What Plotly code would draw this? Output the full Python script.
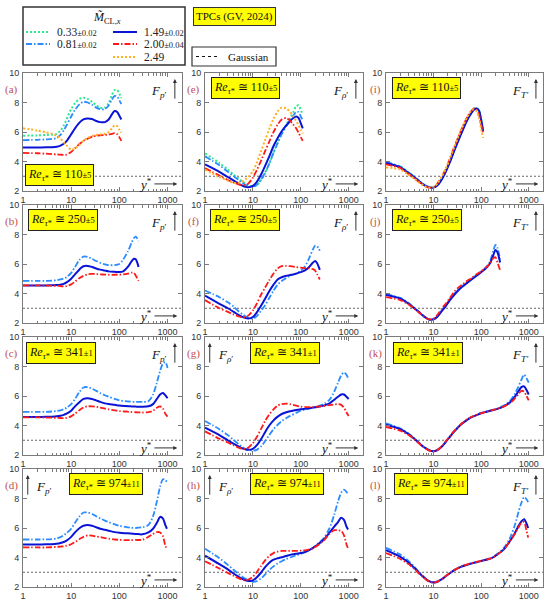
import plotly.graph_objects as go

# ---------------- data ----------------
X_RE110 = [1, 2, 3, 4, 5, 6, 7, 8, 10, 12, 15, 18, 22, 27, 33, 40, 50, 60, 70, 80, 90, 100, 110]
X_RE250 = [1, 2, 3, 4, 5, 6, 7, 8, 10, 12, 15, 18, 22, 27, 33, 40, 50, 60, 80, 100, 120, 150, 180, 200, 220, 250]
X_RE341 = [1, 2, 3, 4, 5, 6, 7, 8, 10, 12, 15, 18, 22, 27, 33, 40, 50, 60, 80, 100, 130, 170, 220, 300, 400, 500, 600, 700, 800, 900, 1000]
X_RE974 = [1, 2, 3, 4, 5, 6, 7, 8, 10, 12, 15, 18, 22, 27, 33, 40, 50, 60, 80, 100, 130, 170, 220, 300, 400, 500, 600, 700, 800, 900, 974]

# (a) F_p', Re 110
A_033 = [5.75, 5.77, 5.8, 5.82, 5.87, 6.1, 6.45, 6.85, 7.55, 7.95, 8.25, 8.32, 8.25, 8.05, 7.82, 7.65, 7.65, 7.95, 8.5, 8.85, 8.85, 8.6, 8.3]
A_081 = [5.45, 5.47, 5.5, 5.53, 5.6, 5.8, 6.1, 6.45, 7.05, 7.5, 7.9, 8.05, 8.0, 7.85, 7.65, 7.55, 7.55, 7.8, 8.2, 8.45, 8.4, 8.15, 7.9]
A_149 = [4.95, 4.95, 4.96, 4.97, 5.0, 5.08, 5.2, 5.38, 5.85, 6.25, 6.65, 6.85, 6.92, 6.88, 6.75, 6.67, 6.67, 6.85, 7.2, 7.42, 7.35, 7.1, 6.85]
A_200 = [4.58, 4.56, 4.53, 4.5, 4.48, 4.46, 4.45, 4.47, 4.65, 4.9, 5.2, 5.4, 5.55, 5.67, 5.75, 5.78, 5.8, 5.83, 5.88, 5.92, 5.85, 5.65, 5.4]
A_249 = [6.25, 6.1, 5.98, 5.88, 5.75, 5.55, 5.3, 5.1, 4.8, 4.88, 5.15, 5.4, 5.6, 5.72, 5.8, 5.83, 5.88, 6.0, 6.25, 6.45, 6.4, 6.15, 5.95]
# (e) F_rho', Re 110
E_033 = [4.55, 3.9, 3.45, 3.1, 2.85, 2.65, 2.5, 2.4, 2.3, 2.4, 2.75, 3.2, 3.85, 4.6, 5.3, 5.9, 6.5, 6.95, 7.35, 7.75, 7.8, 7.5, 7.2]
E_081 = [4.35, 3.75, 3.3, 3.0, 2.75, 2.55, 2.42, 2.35, 2.3, 2.4, 2.8, 3.25, 3.85, 4.6, 5.25, 5.85, 6.4, 6.8, 7.1, 7.35, 7.35, 7.05, 6.8]
E_149 = [3.8, 3.3, 2.95, 2.7, 2.5, 2.37, 2.28, 2.25, 2.35, 2.6, 3.15, 3.7, 4.35, 5.05, 5.6, 6.05, 6.45, 6.75, 6.95, 7.05, 6.95, 6.6, 6.25]
E_200 = [3.55, 3.05, 2.75, 2.57, 2.45, 2.38, 2.4, 2.5, 2.9, 3.4, 4.1, 4.7, 5.35, 6.0, 6.5, 6.85, 6.95, 6.75, 6.5, 6.25, 5.95, 5.65, 5.4]
E_249 = [3.45, 2.95, 2.7, 2.55, 2.55, 2.65, 2.8, 2.95, 3.35, 3.9, 4.75, 5.45, 6.2, 6.9, 7.4, 7.65, 7.6, 7.35, 7.05, 6.75, 6.45, 6.15, 5.9]
# (i) F_T', Re 110
I_033 = [3.95, 3.65, 3.25, 2.95, 2.68, 2.48, 2.35, 2.27, 2.25, 2.4, 2.85, 3.35, 4.0, 4.75, 5.45, 6.1, 6.8, 7.25, 7.55, 7.65, 7.45, 6.9, 6.2]
I_081 = [3.95, 3.65, 3.25, 2.95, 2.68, 2.48, 2.35, 2.27, 2.25, 2.4, 2.85, 3.35, 4.0, 4.75, 5.45, 6.1, 6.8, 7.25, 7.5, 7.6, 7.4, 6.85, 6.1]
I_149 = [3.9, 3.6, 3.2, 2.92, 2.65, 2.45, 2.32, 2.24, 2.23, 2.37, 2.8, 3.3, 3.95, 4.7, 5.4, 6.05, 6.75, 7.2, 7.5, 7.6, 7.45, 6.8, 6.05]
I_200 = [3.8, 3.55, 3.15, 2.85, 2.6, 2.42, 2.3, 2.23, 2.28, 2.5, 3.0, 3.5, 4.2, 4.95, 5.65, 6.3, 6.95, 7.35, 7.6, 7.55, 7.2, 6.5, 5.9]
I_249 = [3.6, 3.45, 3.1, 2.82, 2.57, 2.4, 2.28, 2.22, 2.28, 2.5, 3.0, 3.5, 4.2, 4.95, 5.65, 6.3, 6.95, 7.4, 7.55, 7.4, 6.95, 6.2, 5.6]

# (b) (f) (j), Re 250
B_081 = [4.85, 4.85, 4.86, 4.87, 4.9, 4.95, 5.02, 5.1, 5.4, 5.8, 6.3, 6.5, 6.48, 6.35, 6.2, 6.08, 5.98, 5.93, 5.92, 6.0, 6.3, 6.85, 7.45, 7.75, 7.85, 7.55]
B_149 = [4.55, 4.55, 4.55, 4.56, 4.57, 4.6, 4.65, 4.75, 5.0, 5.3, 5.65, 5.85, 5.87, 5.8, 5.7, 5.62, 5.55, 5.5, 5.47, 5.45, 5.5, 5.8, 6.2, 6.35, 6.3, 5.8]
B_200 = [4.55, 4.55, 4.54, 4.53, 4.52, 4.5, 4.48, 4.5, 4.62, 4.8, 5.05, 5.2, 5.3, 5.33, 5.32, 5.3, 5.28, 5.27, 5.27, 5.28, 5.3, 5.35, 5.42, 5.4, 5.2, 4.85]
F_081 = [4.2, 3.75, 3.4, 3.1, 2.8, 2.6, 2.45, 2.35, 2.3, 2.45, 2.85, 3.2, 3.7, 4.2, 4.6, 4.85, 5.05, 5.2, 5.35, 5.55, 5.8, 6.4, 7.0, 7.25, 7.2, 6.9]
F_149 = [3.85, 3.3, 3.0, 2.75, 2.55, 2.42, 2.33, 2.3, 2.4, 2.7, 3.2, 3.65, 4.15, 4.6, 4.95, 5.1, 5.2, 5.25, 5.35, 5.45, 5.55, 5.8, 6.1, 6.2, 6.05, 5.6]
F_200 = [3.55, 3.0, 2.75, 2.57, 2.45, 2.38, 2.4, 2.5, 2.85, 3.3, 3.95, 4.4, 4.9, 5.35, 5.7, 5.85, 5.87, 5.85, 5.8, 5.75, 5.72, 5.7, 5.65, 5.55, 5.3, 4.95]
J_081 = [3.95, 3.7, 3.35, 3.0, 2.75, 2.52, 2.35, 2.25, 2.25, 2.45, 2.85, 3.2, 3.6, 3.95, 4.25, 4.5, 4.75, 4.95, 5.25, 5.5, 5.7, 6.1, 6.9, 7.3, 7.1, 6.3]
J_149 = [3.9, 3.65, 3.3, 2.98, 2.72, 2.5, 2.34, 2.24, 2.25, 2.43, 2.82, 3.15, 3.55, 3.9, 4.2, 4.45, 4.7, 4.9, 5.2, 5.45, 5.65, 6.0, 6.6, 6.95, 6.8, 6.1]
J_200 = [3.75, 3.55, 3.25, 2.95, 2.7, 2.48, 2.32, 2.25, 2.3, 2.55, 3.0, 3.3, 3.7, 4.1, 4.4, 4.6, 4.85, 5.0, 5.3, 5.5, 5.7, 6.0, 6.4, 6.45, 6.1, 5.6]

# (c) (g) (k), Re 341
C_081 = [4.92, 4.92, 4.93, 4.95, 4.98, 5.03, 5.1, 5.2, 5.45, 5.8, 6.3, 6.58, 6.6, 6.5, 6.35, 6.2, 6.05, 5.95, 5.8, 5.7, 5.65, 5.62, 5.6, 5.6, 5.65, 6.1, 6.9, 7.7, 8.2, 8.3, 7.9]
C_149 = [4.58, 4.58, 4.59, 4.6, 4.62, 4.66, 4.72, 4.8, 5.0, 5.3, 5.6, 5.8, 5.85, 5.8, 5.7, 5.6, 5.5, 5.45, 5.4, 5.35, 5.32, 5.3, 5.28, 5.27, 5.3, 5.45, 5.8, 6.1, 6.2, 6.05, 5.85]
C_200 = [4.55, 4.55, 4.54, 4.53, 4.52, 4.51, 4.5, 4.52, 4.62, 4.8, 5.05, 5.22, 5.3, 5.3, 5.27, 5.22, 5.15, 5.1, 5.03, 4.98, 4.95, 4.92, 4.9, 4.88, 4.9, 5.0, 5.2, 5.3, 5.15, 4.8, 4.6]
G_081 = [4.3, 3.75, 3.35, 3.0, 2.75, 2.55, 2.42, 2.35, 2.3, 2.35, 2.6, 2.95, 3.35, 3.75, 4.05, 4.3, 4.5, 4.65, 4.85, 5.0, 5.1, 5.2, 5.3, 5.45, 5.75, 6.3, 6.9, 7.4, 7.6, 7.45, 7.1]
G_149 = [3.85, 3.35, 3.0, 2.75, 2.58, 2.45, 2.38, 2.35, 2.42, 2.65, 3.1, 3.55, 4.0, 4.35, 4.6, 4.78, 4.9, 4.97, 5.05, 5.1, 5.15, 5.2, 5.25, 5.35, 5.5, 5.75, 5.95, 6.1, 6.1, 5.95, 5.8]
G_200 = [3.6, 3.1, 2.85, 2.65, 2.5, 2.42, 2.42, 2.5, 2.8, 3.2, 3.8, 4.3, 4.75, 5.1, 5.35, 5.45, 5.48, 5.45, 5.35, 5.28, 5.25, 5.25, 5.28, 5.32, 5.38, 5.42, 5.45, 5.4, 5.2, 4.9, 4.65]
K_081 = [4.15, 3.8, 3.45, 3.1, 2.82, 2.6, 2.45, 2.33, 2.25, 2.35, 2.6, 2.9, 3.25, 3.6, 3.9, 4.15, 4.38, 4.55, 4.72, 4.85, 4.95, 5.05, 5.15, 5.35, 5.65, 6.1, 6.6, 7.1, 7.45, 7.2, 6.9]
K_149 = [4.05, 3.75, 3.4, 3.08, 2.8, 2.58, 2.43, 2.32, 2.25, 2.33, 2.58, 2.88, 3.23, 3.58, 3.88, 4.13, 4.36, 4.53, 4.7, 4.83, 4.93, 5.03, 5.13, 5.3, 5.55, 5.9, 6.3, 6.6, 6.65, 6.4, 6.1]
K_200 = [3.9, 3.65, 3.35, 3.05, 2.78, 2.56, 2.42, 2.31, 2.25, 2.33, 2.6, 2.92, 3.28, 3.62, 3.92, 4.17, 4.4, 4.56, 4.72, 4.84, 4.94, 5.04, 5.14, 5.3, 5.5, 5.8, 6.1, 6.35, 6.3, 6.0, 5.7]

# (d) (h) (l), Re 974
D_081 = [5.22, 5.22, 5.23, 5.25, 5.3, 5.38, 5.5, 5.65, 5.95, 6.35, 6.8, 7.05, 7.05, 6.95, 6.8, 6.65, 6.5, 6.4, 6.25, 6.15, 6.08, 6.02, 6.0, 6.05, 6.2, 6.8, 7.8, 8.8, 9.3, 9.25, 9.1]
D_149 = [4.88, 4.88, 4.89, 4.9, 4.93, 4.98, 5.05, 5.15, 5.4, 5.7, 6.0, 6.15, 6.2, 6.15, 6.05, 5.95, 5.88, 5.82, 5.72, 5.68, 5.65, 5.63, 5.6, 5.57, 5.7, 5.95, 6.35, 6.75, 6.65, 6.2, 5.95]
D_200 = [4.68, 4.68, 4.68, 4.7, 4.72, 4.74, 4.76, 4.8, 4.9, 5.05, 5.25, 5.4, 5.5, 5.48, 5.42, 5.38, 5.32, 5.28, 5.22, 5.2, 5.18, 5.18, 5.19, 5.2, 5.4, 5.6, 5.72, 5.7, 5.45, 4.8, 4.55]
H_081 = [4.6, 3.95, 3.5, 3.15, 2.9, 2.7, 2.55, 2.45, 2.35, 2.4, 2.6, 2.85, 3.15, 3.4, 3.6, 3.75, 3.9, 4.0, 4.15, 4.25, 4.4, 4.6, 4.9, 5.3, 6.0, 6.9, 7.8, 8.4, 8.6, 8.45, 8.3]
H_149 = [4.12, 3.55, 3.2, 2.9, 2.7, 2.55, 2.45, 2.4, 2.45, 2.65, 3.0, 3.35, 3.65, 3.85, 3.95, 4.02, 4.1, 4.18, 4.25, 4.3, 4.4, 4.6, 4.85, 5.2, 5.7, 6.1, 6.4, 6.7, 6.55, 6.1, 5.9]
H_200 = [3.75, 3.25, 2.95, 2.75, 2.6, 2.5, 2.45, 2.5, 2.7, 3.0, 3.45, 3.8, 4.1, 4.3, 4.4, 4.45, 4.45, 4.45, 4.45, 4.47, 4.5, 4.6, 4.8, 5.15, 5.6, 5.85, 5.85, 5.8, 5.5, 4.9, 4.6]
L_081 = [4.65, 4.2, 3.75, 3.35, 3.0, 2.75, 2.55, 2.42, 2.32, 2.38, 2.55, 2.75, 2.95, 3.15, 3.3, 3.42, 3.52, 3.6, 3.7, 3.78, 3.88, 4.0, 4.25, 4.65, 5.3, 6.1, 7.0, 7.7, 8.1, 7.95, 7.75]
L_149 = [4.5, 4.05, 3.65, 3.27, 2.95, 2.7, 2.52, 2.4, 2.3, 2.36, 2.53, 2.73, 2.93, 3.13, 3.28, 3.4, 3.5, 3.58, 3.68, 3.76, 3.85, 3.97, 4.2, 4.55, 5.1, 5.6, 6.1, 6.45, 6.6, 6.3, 6.0]
L_200 = [4.3, 3.9, 3.55, 3.2, 2.9, 2.68, 2.5, 2.38, 2.3, 2.36, 2.55, 2.75, 2.95, 3.15, 3.3, 3.42, 3.52, 3.6, 3.7, 3.77, 3.86, 3.98, 4.2, 4.55, 5.1, 5.55, 6.0, 6.35, 6.4, 5.8, 5.35]

GAUSSIAN_F = 3
SERIES_LABELS = ["0.33", "0.81", "1.49", "2.00", "2.49"]
SERIES_ERR = ["±0.02", "±0.02", "±0.02", "±0.04", ""]
RE_LABELS = ["110", "250", "341", "974"]
RE_ERR = ["±5", "±5", "±1", "±11"]
PANEL_LETTERS = [["(a)", "(e)", "(i)"], ["(b)", "(f)", "(j)"], ["(c)", "(g)", "(k)"], ["(d)", "(h)", "(l)"]]
X_TICKS = [1, 10, 100, 1000]
X_TICKTEXT = ["1", "10", "100", "1000"]
Y_TICKS = [2, 4, 6, 8, 10]

ROW_X = [X_RE110, X_RE250, X_RE341, X_RE974]
PANELS = [
    [[A_033, A_081, A_149, A_200, A_249], [E_033, E_081, E_149, E_200, E_249], [I_033, I_081, I_149, I_200, I_249]],
    [[None, B_081, B_149, B_200, None], [None, F_081, F_149, F_200, None], [None, J_081, J_149, J_200, None]],
    [[None, C_081, C_149, C_200, None], [None, G_081, G_149, G_200, None], [None, K_081, K_149, K_200, None]],
    [[None, D_081, D_149, D_200, None], [None, H_081, H_149, H_200, None], [None, L_081, L_149, L_200, None]],
]

# ---------------- styling ----------------
W, H = 550, 601
COLORS = ["#2ee88f", "#2b8cff", "#0a14d6", "#ff1a1a", "#ffb020"]
DASHES = ["2px,2px", "6px,2px,1.5px,2px", "solid", "6px,2px,1.5px,2px", "2px,2px"]
WIDTHS = [2, 1.8, 2, 1.8, 2]
COL_PX = [(23, 182), (205, 363), (386, 543)]
ROW_PX = [(73, 191), (205, 323), (337, 455), (469, 587)]
F_LABELS = ["<i>F</i><sub><i>p</i>′</sub>", "<i>F</i><sub><i>ρ</i>′</sub>", "<i>F</i><sub><i>T</i>\u200a′</sub>"]
F_SIDE = [["r", "r", "r"], ["r", "r", "r"], ["r", "l", "r"], ["l", "l", "r"]]
RE_POS = [[(0.015, "left", 0.135), (0.04, "left", 0.873), (0.04, "left", 0.873)],
          [(0.03, "left", 0.869), (0.03, "left", 0.869), (0.04, "left", 0.869)],
          [(0.02, "left", 0.865), (0.505, "center", 0.865), (0.045, "left", 0.865)],
          [(0.52, "center", 0.875), (0.52, "center", 0.875), (0.05, "left", 0.875)]]
SERIF = "Liberation Serif"
SANS = "Liberation Sans"

def px2x(p):
    return p / W

def px2y(p):
    return 1 - p / H

fig = go.Figure()
annotations = []
shapes = []
minor_vals = [m * 10 ** e for e in range(0, 4) for m in range(2, 10)]

for r in range(4):
    for c in range(3):
        k = r * 3 + c + 1
        sfx = "" if k == 1 else str(k)
        xa, ya = "x" + sfx, "y" + sfx
        for s, yv in enumerate(PANELS[r][c]):
            if yv is None:
                continue
            fig.add_trace(go.Scatter(
                x=ROW_X[r], y=yv, xaxis=xa, yaxis=ya, mode="lines",
                line=dict(color=COLORS[s], dash=DASHES[s], width=WIDTHS[s], shape="spline", smoothing=0.8),
                showlegend=False, hoverinfo="skip"))
        x0, x1 = COL_PX[c]
        y0, y1 = ROW_PX[r]
        axcommon = dict(showline=True, linecolor="#7a7a7a", linewidth=1, mirror="allticks",
                        ticks="inside", ticklen=4, tickcolor="#7a7a7a", showgrid=False, zeroline=False,
                        automargin=False, tickfont=dict(family=SANS, size=9, color="#333"))
        fig.layout["xaxis" + sfx] = dict(
            domain=[px2x(x0), px2x(x1)], anchor=ya, type="log", range=[0, 3.3],
            tickmode="array", tickvals=X_TICKS, ticktext=X_TICKTEXT, ticklabelstandoff=0,
            minor=dict(tickmode="array", tickvals=minor_vals, ticks="inside", ticklen=2.5, tickcolor="#7a7a7a", showgrid=False),
            **axcommon)
        fig.layout["yaxis" + sfx] = dict(
            domain=[px2y(y1), px2y(y0)], anchor=xa, range=[2, 10],
            tickmode="array", tickvals=Y_TICKS, ticklabelstandoff=1, **axcommon)
        xd, yd = xa + " domain", ya + " domain"
        shapes.append(dict(type="line", xref=xd, yref=ya, x0=0, x1=1, y0=GAUSSIAN_F, y1=GAUSSIAN_F,
                           line=dict(color="#555", width=0.9, dash="2px,2px"), layer="below"))
        annotations.append(dict(xref=xd, yref=yd, x=-0.07, y=0.86, text=PANEL_LETTERS[r][c], showarrow=False,
                                font=dict(family=SERIF, size=11, color="#c0504d"), xanchor="center", yanchor="middle"))
        bx, banchor, by = RE_POS[r][c]
        annotations.append(dict(xref=xd, yref=yd, x=bx, y=by, xanchor=banchor, yanchor="middle", showarrow=False,
                                text="<i>Re</i><sub><i>τ</i>*</sub> ≅ " + RE_LABELS[r] + "<span style='font-size:8.5px'>" + RE_ERR[r] + "</span>",
                                font=dict(family=SERIF, size=12, color="#111"), bgcolor="#ffff00",
                                bordercolor="#222", borderwidth=1, borderpad=2))
        # y* label with its arrow (label sits at the arrow's tail)
        annotations.append(dict(xref=xd, yref=yd, x=0.97, y=0.06, axref=xd, ayref=yd, ax=0.77, ay=0.06,
                                text="<i>y</i><sup>*</sup>", showarrow=True, arrowhead=2, arrowsize=0.8,
                                arrowwidth=1, arrowcolor="#333", standoff=0, startstandoff=1,
                                font=dict(family=SERIF, size=13, color="#111")))
        if F_SIDE[r][c] == "r":
            axx, lx = 0.955, 0.855
        else:
            axx, lx = 0.03, 0.13
        annotations.append(dict(xref=xd, yref=yd, x=axx, y=0.95, axref=xd, ayref=yd, ax=axx, ay=0.77,
                                text="", showarrow=True, arrowhead=2, arrowsize=0.8, arrowwidth=1, arrowcolor="#333"))
        annotations.append(dict(xref=xd, yref=yd, x=lx, y=0.845, text=F_LABELS[c], showarrow=False,
                                font=dict(family=SERIF, size=13, color="#111"), xanchor="center", yanchor="middle"))

# ---------------- legend (drawn manually) ----------------
shapes.append(dict(type="rect", xref="paper", yref="paper", x0=px2x(23), x1=px2x(185), y0=px2y(65), y1=px2y(7),
                   line=dict(color="#333", width=1.5), fillcolor="white"))
annotations.append(dict(xref="paper", yref="paper", x=px2x(107), y=px2y(18), showarrow=False,
                        xanchor="center", yanchor="middle",
                        text="<i>M\u0303</i><sub>CL,<i>x</i></sub>", font=dict(family=SERIF, size=12, color="#111")))
LEG_POS = [(26, 32), (26, 44), (113, 32), (113, 44), (113, 57)]
for s, (lxp, lyp) in enumerate(LEG_POS):
    shapes.append(dict(type="line", xref="paper", yref="paper", x0=px2x(lxp), x1=px2x(lxp + 24),
                       y0=px2y(lyp), y1=px2y(lyp), line=dict(color=COLORS[s], width=2, dash=DASHES[s])))
    label = SERIES_LABELS[s]
    if SERIES_ERR[s]:
        label += "<span style='font-size:8.5px'>" + SERIES_ERR[s] + "</span>"
    annotations.append(dict(xref="paper", yref="paper", x=px2x(lxp + 29), y=px2y(lyp), xanchor="left", yanchor="middle",
                            showarrow=False, font=dict(family=SERIF, size=11.5, color="#222"), text=label))
annotations.append(dict(xref="paper", yref="paper", x=px2x(234), y=px2y(16.5), showarrow=False,
                        xanchor="center", yanchor="middle",
                        text="TPCs (GV, 2024)", font=dict(family=SERIF, size=11, color="#111"),
                        bgcolor="#ffff00", bordercolor="#333", borderwidth=1, borderpad=2))
shapes.append(dict(type="rect", xref="paper", yref="paper", x0=px2x(192), x1=px2x(276), y0=px2y(66), y1=px2y(47),
                   line=dict(color="#333", width=1.2), fillcolor="white"))
shapes.append(dict(type="line", xref="paper", yref="paper", x0=px2x(196), x1=px2x(219), y0=px2y(56.5), y1=px2y(56.5),
                   line=dict(color="#111", width=1, dash="3px,3px")))
annotations.append(dict(xref="paper", yref="paper", x=px2x(226), y=px2y(56.5), xanchor="left", yanchor="middle",
                        showarrow=False, text="Gaussian", font=dict(family=SERIF, size=11, color="#111")))

fig.update_layout(width=W, height=H, margin=dict(l=0, r=0, t=0, b=0, pad=0),
                  paper_bgcolor="white", plot_bgcolor="white", showlegend=False,
                  annotations=annotations, shapes=shapes)
fig.write_html("out.html", config={"displayModeBar": False},
               post_script="document.body.style.margin='0px';document.body.style.overflow='hidden';")
